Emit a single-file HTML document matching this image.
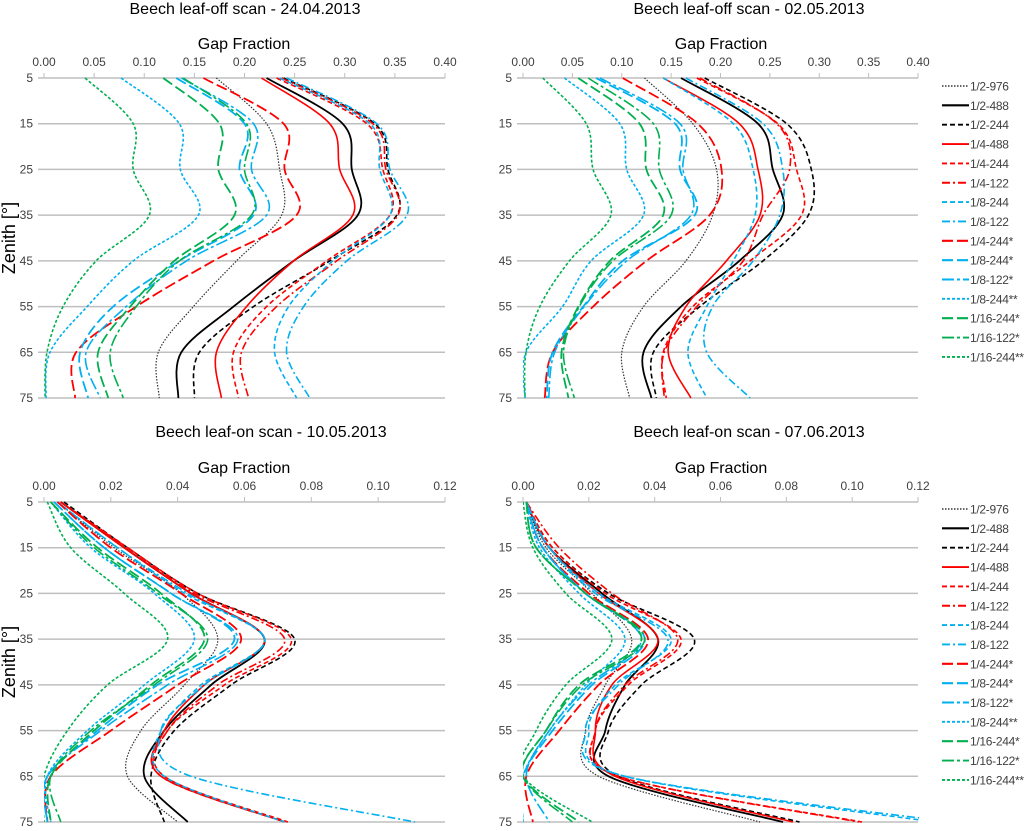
<!DOCTYPE html>
<html><head><meta charset="utf-8"><style>
body{margin:0;background:#fff}
svg text{font-family:"Liberation Sans",sans-serif}
</style></head><body>
<svg id="c" width="1024" height="826" viewBox="0 0 1024 826" xmlns="http://www.w3.org/2000/svg"></svg>
<script>
const zenith=[5,15,25,35,45,55,65,75];
const seriesNames=["1/2-976","1/2-488","1/2-244","1/4-488","1/4-244","1/4-122","1/8-244","1/8-122","1/4-244*","1/8-244*","1/8-122*","1/8-244**","1/16-244*","1/16-122*","1/16-244**"];
const ticks1=["0.00","0.05","0.10","0.15","0.20","0.25","0.30","0.35","0.40"];
const ticks2=["0.00","0.02","0.04","0.06","0.08","0.10","0.12"];
const zenithTicks=["5","15","25","35","45","55","65","75"];
// panel A: 24.04.2013
const a0=[0.172,0.222,0.235,0.237,0.192,0.149,0.114,0.115];
const a1=[0.222,0.298,0.307,0.313,0.249,0.189,0.137,0.134];
const a2=[0.239,0.330,0.343,0.352,0.285,0.209,0.155,0.150];
const a3=[0.217,0.285,0.295,0.308,0.249,0.202,0.172,0.177];
const a4=[0.232,0.322,0.338,0.345,0.282,0.222,0.189,0.194];
const a5=[0.237,0.328,0.341,0.353,0.292,0.232,0.197,0.204];
const a6=[0.235,0.325,0.335,0.345,0.288,0.244,0.230,0.252];
const a7=[0.242,0.332,0.345,0.362,0.302,0.259,0.242,0.265];
const a8=[0.159,0.239,0.240,0.252,0.169,0.092,0.032,0.031];
const a9=[0.132,0.200,0.195,0.209,0.135,0.069,0.036,0.044];
const a10=[0.137,0.209,0.207,0.222,0.142,0.082,0.042,0.056];
const a11=[0.077,0.135,0.136,0.154,0.089,0.043,0.006,0.002];
const a12=[0.119,0.175,0.174,0.190,0.130,0.086,0.054,0.064];
const a13=[0.139,0.202,0.200,0.207,0.135,0.092,0.066,0.079];
const a14=[0.041,0.089,0.089,0.105,0.052,0.019,0.003,0.001];
// panel B: 02.05.2013
const b0=[0.123,0.172,0.196,0.192,0.165,0.122,0.100,0.108];
const b1=[0.160,0.238,0.253,0.263,0.219,0.160,0.122,0.130];
const b2=[0.184,0.267,0.292,0.289,0.243,0.179,0.132,0.135];
const b3=[0.142,0.219,0.238,0.240,0.206,0.165,0.147,0.170];
const b4=[0.176,0.258,0.277,0.282,0.230,0.172,0.142,0.145];
const b5=[0.179,0.257,0.270,0.243,0.223,0.176,0.143,0.143];
const b6=[0.142,0.213,0.233,0.235,0.213,0.186,0.167,0.186];
const b7=[0.165,0.243,0.263,0.260,0.233,0.192,0.186,0.230];
const b8=[0.101,0.177,0.201,0.189,0.125,0.071,0.030,0.022];
const b9=[0.074,0.154,0.159,0.174,0.101,0.061,0.030,0.024];
const b10=[0.078,0.159,0.162,0.170,0.105,0.062,0.032,0.026];
const b11=[0.042,0.098,0.105,0.122,0.069,0.040,0.003,0.002];
const b12=[0.056,0.118,0.125,0.142,0.088,0.056,0.039,0.046];
const b13=[0.066,0.132,0.138,0.150,0.091,0.057,0.041,0.052];
const b14=[0.020,0.064,0.071,0.089,0.047,0.017,0.003,0.002];
// panel C: 10.05.2013
const c0=[0.004,0.021,0.041,0.052,0.042,0.029,0.025,0.040];
const c1=[0.005,0.024,0.044,0.066,0.050,0.036,0.030,0.043];
const c2=[0.006,0.025,0.046,0.075,0.056,0.039,0.032,0.036];
const c3=[0.005,0.024,0.044,0.066,0.048,0.036,0.035,0.072];
const c4=[0.005,0.025,0.046,0.074,0.054,0.037,0.036,0.073];
const c5=[0.005,0.025,0.045,0.072,0.052,0.037,0.035,0.072];
const c6=[0.004,0.022,0.042,0.066,0.047,0.035,0.036,0.072];
const c7=[0.004,0.022,0.043,0.066,0.048,0.035,0.044,0.111];
const c8=[0.004,0.020,0.041,0.059,0.040,0.020,0.002,0.001];
const c9=[0.003,0.018,0.038,0.057,0.034,0.016,0.001,0.001];
const c10=[0.003,0.018,0.038,0.058,0.037,0.017,0.001,0.001];
const c11=[0.002,0.014,0.033,0.045,0.030,0.013,0.001,0.002];
const c12=[0.002,0.016,0.035,0.048,0.032,0.015,0.002,0.002];
const c13=[0.002,0.015,0.034,0.049,0.033,0.014,0.002,0.005];
const c14=[0.001,0.008,0.024,0.037,0.019,0.007,0.000,0.000];
// panel D: 07.06.2013
const d0=[0.001,0.007,0.021,0.033,0.025,0.019,0.023,0.072];
const d1=[0.001,0.008,0.024,0.041,0.031,0.025,0.026,0.079];
const d2=[0.001,0.009,0.026,0.052,0.036,0.026,0.029,0.084];
const d3=[0.001,0.008,0.023,0.041,0.027,0.022,0.028,0.082];
const d4=[0.001,0.009,0.025,0.048,0.032,0.022,0.029,0.103];
const d5=[0.001,0.011,0.027,0.047,0.031,0.022,0.029,0.102];
const d6=[0.001,0.008,0.023,0.045,0.028,0.020,0.031,0.125];
const d7=[0.001,0.008,0.022,0.044,0.029,0.019,0.031,0.130];
const d8=[0.001,0.006,0.020,0.038,0.023,0.011,0.001,0.003];
const d9=[0.001,0.006,0.019,0.037,0.021,0.009,0.000,0.000];
const d10=[0.001,0.006,0.019,0.036,0.020,0.008,0.001,0.008];
const d11=[0.001,0.005,0.017,0.031,0.019,0.008,0.000,0.000];
const d12=[0.001,0.004,0.019,0.036,0.017,0.007,0.000,0.017];
const d13=[0.001,0.004,0.019,0.037,0.018,0.007,0.000,0.015];
const d14=[0.000,0.003,0.013,0.027,0.013,0.004,0.000,0.021];

const colors=["#333","#000","#000","#f00","#f00","#f00","#00b0f0","#00b0f0","#f00","#00b0f0","#00b0f0","#00b0f0","#00b050","#00b050","#00b050"];
const dashes=["1.5,1.5","","5,3","","5,3","8,3,2,3","5,3","8,3,2,3","11,4","11,4","12,3,3,3","3,2","11,4","12,3,3,3","3,2"];
const widths=[1.2,1.8,1.6,1.6,1.6,1.6,1.6,1.6,1.8,1.8,1.6,1.6,1.8,1.6,1.6];

const svg=document.getElementById('c');
const NS="http://www.w3.org/2000/svg";
function el(tag,attrs,parent){const e=document.createElementNS(NS,tag);for(const k in attrs)e.setAttribute(k,attrs[k]);(parent||svg).appendChild(e);return e;}
function txt(s,attrs,parent){const e=el('text',attrs,parent);e.textContent=s;return e;}
function spline(pts){let d="M"+pts[0][0].toFixed(1)+","+pts[0][1].toFixed(1);
 for(let i=0;i<pts.length-1;i++){const p0=pts[Math.max(0,i-1)],p1=pts[i],p2=pts[i+1],p3=pts[Math.min(pts.length-1,i+2)];
  const c1x=p1[0]+(p2[0]-p0[0])/6,c1y=p1[1]+(p2[1]-p0[1])/6,c2x=p2[0]-(p3[0]-p1[0])/6,c2y=p2[1]-(p3[1]-p1[1])/6;
  d+=" C"+c1x.toFixed(1)+","+c1y.toFixed(1)+" "+c2x.toFixed(1)+","+c2y.toFixed(1)+" "+p2[0].toFixed(1)+","+p2[1].toFixed(1);}
 return d;}

const panels=[
 {id:"a",title:"Beech leaf-off scan - 24.04.2013",x0:44,x1:445,y0:78,y1:398,max:0.4,ticks:ticks1,titleX:245,titleY:14,gfX:244,zen:true,legend:false,data:[a0,a1,a2,a3,a4,a5,a6,a7,a8,a9,a10,a11,a12,a13,a14]},
 {id:"b",title:"Beech leaf-off scan - 02.05.2013",x0:523,x1:918,y0:78,y1:398,max:0.4,ticks:ticks1,titleX:749,titleY:14,gfX:721,zen:false,legend:true,legY:86,data:[b0,b1,b2,b3,b4,b5,b6,b7,b8,b9,b10,b11,b12,b13,b14]},
 {id:"c",title:"Beech leaf-on scan - 10.05.2013",x0:44,x1:445,y0:502,y1:822,max:0.12,ticks:ticks2,titleX:271,titleY:437,gfX:244,zen:true,legend:false,data:[c0,c1,c2,c3,c4,c5,c6,c7,c8,c9,c10,c11,c12,c13,c14]},
 {id:"d",title:"Beech leaf-on scan - 07.06.2013",x0:523,x1:918,y0:502,y1:822,max:0.12,ticks:ticks2,titleX:749,titleY:437,gfX:721,zen:false,legend:true,legY:509,data:[d0,d1,d2,d3,d4,d5,d6,d7,d8,d9,d10,d11,d12,d13,d14]}
];

panels.forEach(p=>{
 const g=el('g',{});
 
 
 const xs=v=>p.x0+v/p.max*(p.x1-p.x0);
 const ys=z=>p.y0+(z-5)/70*(p.y1-p.y0);
 const t=txt(p.title,{x:p.titleX,y:p.titleY,'text-anchor':'middle','font-size':16,fill:'#000'},g);
 
 
 const gf=txt("Gap Fraction",{x:p.gfX,y:p.y0-29,'text-anchor':'middle','font-size':16,fill:'#000'},g);
 
 
 if(p.zen){const zt=txt("Zenith [°]",{x:0,y:0,'text-anchor':'middle','font-size':18,fill:'#000',transform:`translate(15,${p.id==='a'?238:662}) rotate(-90)`},g);
  
  }
 zenith.forEach((z,i)=>{const l=el('line',{x1:p.x0-6,x2:p.x1,y1:ys(z),y2:ys(z),stroke:'#bfbfbf','stroke-width':1.5},g);
  
  
  const tl=txt(zenithTicks[i],{x:p.x0-11,y:ys(z)+4,'text-anchor':'end','font-size':12,fill:'#404040'},g);
  
  });
 p.ticks.forEach((s,i)=>{const v=i*p.max/(p.ticks.length-1);const x=xs(v);
  const tm=el('line',{x1:x,x2:x,y1:p.y0,y2:p.y0-5,stroke:'#bfbfbf','stroke-width':1},g);
  
  
  const tl=txt(s,{x:x,y:p.y0-12,'text-anchor':'middle','font-size':12,fill:'#404040'},g);
  
  });
 const cp=el('clipPath',{id:'clip'+p.id},g);
 el('rect',{x:p.x0,y:p.y0-2,width:p.x1-p.x0+1,height:p.y1-p.y0+4},cp);
 const sg=el('g',{'clip-path':`url(#clip${p.id})`},g);
 p.data.forEach((arr,si)=>{const pts=arr.map((v,i)=>[xs(v),ys(zenith[i])]);
  const path=el('path',{d:spline(pts),fill:'none',stroke:colors[si],'stroke-width':widths[si],'stroke-dasharray':dashes[si]},sg);
  
  });
 if(p.legend){seriesNames.forEach((n,si)=>{const y=p.legY+si*19.35;
  const lg=el('g',{},g);
  
  
  el('line',{x1:942,x2:969,y1:y,y2:y,stroke:colors[si],'stroke-width':widths[si]+0.3,'stroke-dasharray':dashes[si]},lg);
  txt(n,{x:970,y:y+4.5,'font-size':12,'letter-spacing':'-0.3',fill:'#404040'},lg);});}
});
</script>
</body></html>
